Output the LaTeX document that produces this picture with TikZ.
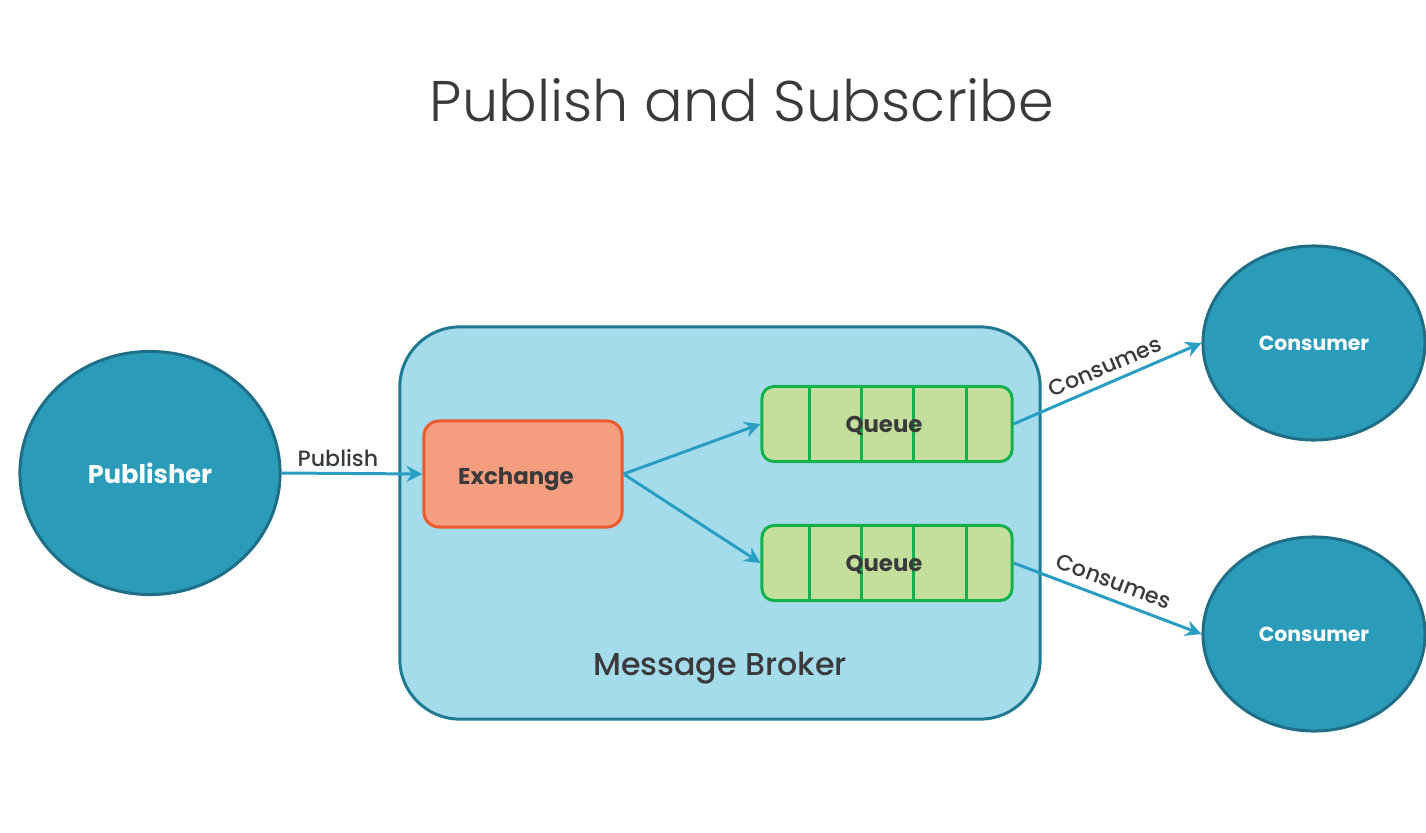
\documentclass[tikz,border=0pt]{standalone}
\usepackage{fontspec}
\setmainfont{Poppins}
\newfontfamily\lightfont{Poppins Light}
\newfontfamily\medfont{Poppins Medium}
\usetikzlibrary{shapes.geometric,arrows.meta,calc}
\definecolor{circfill}{HTML}{2B9BBA}
\definecolor{circline}{HTML}{1E6E87}
\definecolor{brokerfill}{HTML}{A5DCEC}
\definecolor{brokerline}{HTML}{1F7A92}
\definecolor{exfill}{HTML}{F59D7F}
\definecolor{exline}{HTML}{EC5B2D}
\definecolor{qfill}{HTML}{C4DF9B}
\definecolor{qline}{HTML}{12B14C}
\definecolor{arrowcol}{HTML}{2A9DC2}
\definecolor{txt}{HTML}{3A3A3A}
\begin{document}
\begin{tikzpicture}[x=0.01cm,y=-0.01cm,
	actor/.style={ellipse,draw=circline,fill=circfill,line width=0.85pt,text=white,font=\bfseries},
	broker/.style={draw=brokerline,fill=brokerfill,line width=0.85pt,rounded corners=0.6cm,minimum width=6.4cm,minimum height=3.92cm},
	exbox/.style={draw=exline,fill=exfill,line width=0.85pt,rounded corners=0.15cm,minimum width=1.98cm,minimum height=1.06cm},
	queue/.style={draw=qline,fill=qfill,line width=0.85pt,rounded corners=0.12cm,minimum width=2.5cm,minimum height=0.75cm},
	boxtext/.style={text=txt,font=\fontsize{6.5}{8}\selectfont\bfseries},
	link/.style={draw=arrowcol,line width=0.85pt,-{Stealth[length=4.5pt,width=4.5pt]}},
	lbl/.style={text=txt,font=\fontsize{6.3}{7}\selectfont\medfont}]
	\useasboundingbox (0,0) rectangle (1426,833);
	\node[text=txt,font=\fontsize{16.3}{18}\selectfont\lightfont] (title) at (742,100) {Publish and Subscribe};
	\node[broker] (mb) at (720,523) {};
	\node[text=txt,font=\fontsize{9}{10}\selectfont\medfont] (mbtext) at (720,668) {Message Broker};
	\node[actor,minimum width=2.6cm,minimum height=2.43cm,font=\fontsize{7.3}{8}\selectfont\bfseries] (pub) at (150,473) {Publisher};
	\node[exbox] (ex) at (523,474) {};
	\node[boxtext] at (516,479) {Exchange};
	\node[queue] (q1) at (887,424) {};
	\node[queue] (q2) at (887,563) {};
	\foreach \q in {q1,q2}
		\foreach \d in {49,101,153,206}
			\draw[qline,line width=0.85pt] ([xshift=\d*0.01cm]\q.north west) -- ([xshift=\d*0.01cm]\q.south west);
	\node[boxtext] at (884,426) {Queue};
	\node[boxtext] at (884,565) {Queue};
	\node[actor,minimum width=2.22cm,minimum height=1.94cm,font=\fontsize{5.8}{7}\selectfont\bfseries] (c1) at (1314,343) {Consumer};
	\node[actor,minimum width=2.22cm,minimum height=1.94cm,font=\fontsize{5.8}{7}\selectfont\bfseries] (c2) at (1314,634) {Consumer};
	\draw[link] (pub.east) -- node[lbl,above,pos=0.4,inner sep=1.5pt] {Publish} (ex.west);
	\draw[link] (ex.east) -- (q1.west);
	\draw[link] (ex.east) -- (q2.west);
	\draw[link] (q1.east) -- node[lbl,above,sloped,pos=0.52,inner sep=2pt] {Consumes} (c1.west);
	\draw[link] (q2.east) -- node[lbl,above,sloped,pos=0.5,inner sep=2.5pt] {Consumes} (c2.west);
\end{tikzpicture}
\end{document}
